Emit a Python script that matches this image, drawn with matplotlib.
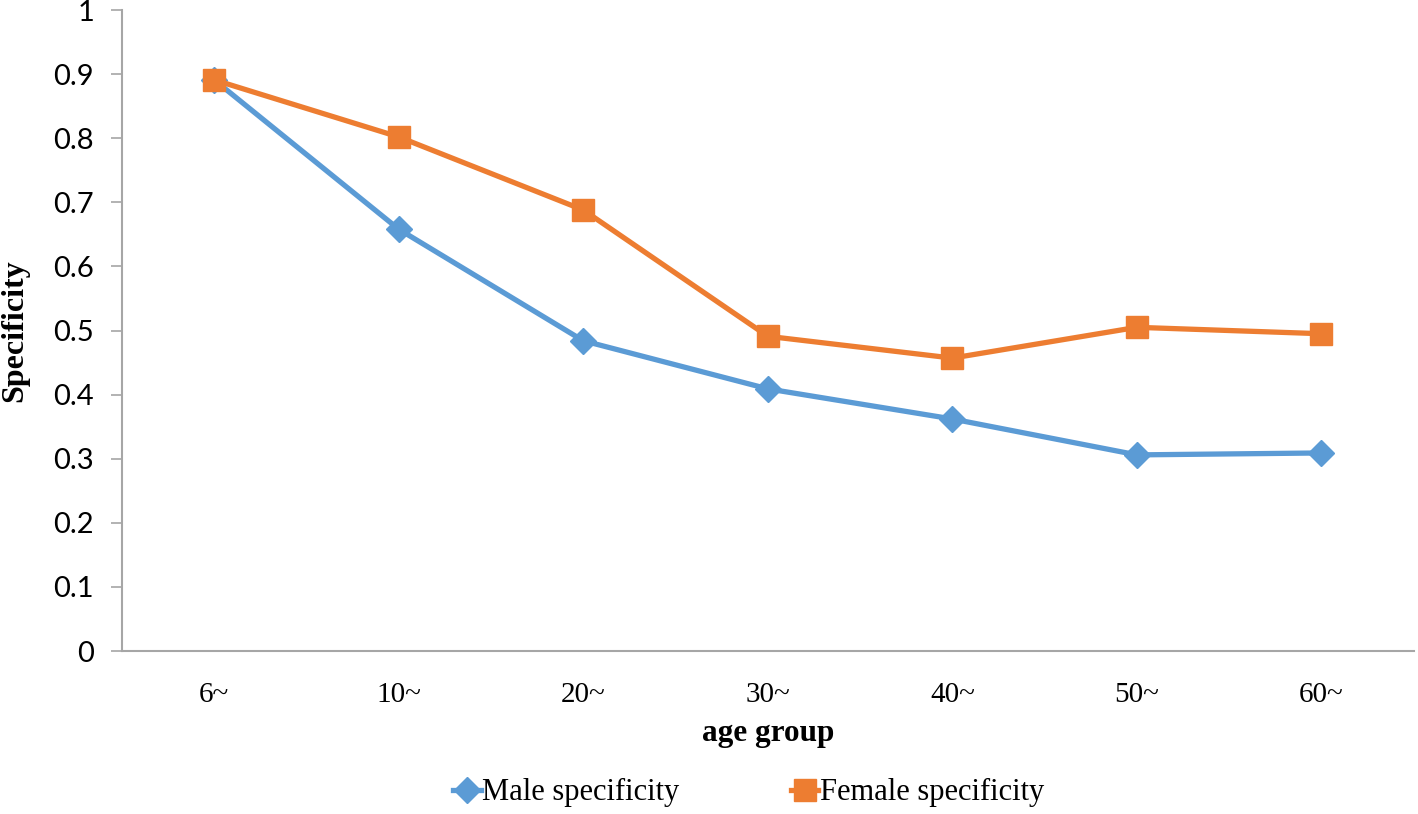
import matplotlib.pyplot as plt

# data
age_groups = ["6~", "10~", "20~", "30~", "40~", "50~", "60~"]
male_spec = [0.891, 0.658, 0.484, 0.409, 0.362, 0.306, 0.309]
female_spec = [0.891, 0.802, 0.688, 0.491, 0.457, 0.505, 0.495]

blue = "#5B9BD5"
orange = "#ED7D31"
grey = "#A6A6A6"

fig = plt.figure(figsize=(14.18, 8.14), dpi=100)
ax = fig.add_axes([0.086, 0.2002, 0.911, 0.7875])

x = range(len(age_groups))
ax.plot(x, male_spec, color=blue, linewidth=3.8, marker="D", markersize=13,
        markerfacecolor=blue, markeredgecolor=blue, label="Male specificity", zorder=3)
ax.plot(x, female_spec, color=orange, linewidth=3.8, marker="s", markersize=16,
        markerfacecolor=orange, markeredgecolor=orange, label="Female specificity", zorder=4)

ax.set_xlim(-0.5, len(age_groups) - 0.5)
ax.set_ylim(0, 1)
ax.set_yticks([i / 10 for i in range(11)])
ax.set_yticklabels(["0"] + ["0.%d" % i for i in range(1, 10)] + ["1"],
                   family="Lato", fontsize=21)
ax.set_xticks(list(x))
ax.set_xticklabels(age_groups, family="Liberation Serif", fontsize=21)

# spines and ticks
for s in ["top", "right"]:
    ax.spines[s].set_visible(False)
for s in ["left", "bottom"]:
    ax.spines[s].set_color(grey)
    ax.spines[s].set_linewidth(1.5)
ax.tick_params(axis="y", length=8, width=1.2, color=grey, pad=12)
ax.tick_params(axis="x", length=0, pad=22)

ax.set_xlabel("age group", family="Liberation Serif", fontweight="bold", fontsize=22.5, labelpad=8)
ax.set_ylabel("Specificity", family="Liberation Serif", fontweight="bold", fontsize=23)
ax.yaxis.set_label_coords(-0.072, 0.5)

# legend below the axes
lgd = fig.legend(loc="center", bbox_to_anchor=(0.528, 0.026), ncol=2, frameon=False,
                 prop={"family": "Liberation Serif", "size": 22},
                 handlelength=0.9, handletextpad=0.05, columnspacing=3.65)

fig.savefig("out.png", dpi=100)
